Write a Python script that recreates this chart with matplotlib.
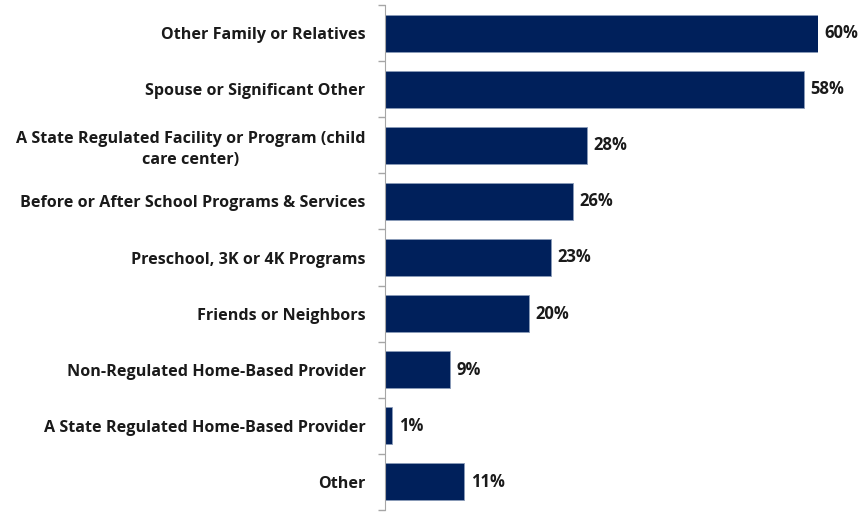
import numpy as np
import matplotlib.pyplot as plt

plt.rcParams['font.family'] = ['Open Sans', 'DejaVu Sans']

categories = ['Other Family or Relatives',
              'Spouse or Significant Other',
              'A State Regulated Facility or Program (child\ncare center)',
              'Before or After School Programs & Services',
              'Preschool, 3K or 4K Programs',
              'Friends or Neighbors',
              'Non-Regulated Home-Based Provider',
              'A State Regulated Home-Based Provider',
              'Other']
values = [60, 58, 28, 26, 23, 20, 9, 1, 11]

fig = plt.figure(figsize=(8.63, 5.12), dpi=100)
ax = fig.add_axes([385 / 863, 2 / 512, 433 / 863, 505 / 512])

y = np.arange(len(categories))
ax.barh(y, values, height=0.66, color='#00205b', edgecolor='#8a9bb8', linewidth=0.6)

# value labels to the right of each bar
for yi, v in zip(y, values):
    ax.text(v + 0.9, yi, f'{v}%', va='center', ha='left', fontsize=12,
            fontweight='bold', color='#1a1a1a', clip_on=False)

ax.set_xlim(0, 60)
ax.set_ylim(len(categories) - 0.5, -0.5)
ax.set_yticks(y)
ax.set_yticklabels(categories, fontsize=11.6, fontweight='bold', color='#1a1a1a',
                   multialignment='center')
for lbl in ax.get_yticklabels():
    lbl.set_linespacing(1.4)
ax.tick_params(axis='y', which='major', length=0, pad=14)
ax.set_yticks(np.arange(-0.5, len(categories), 1), minor=True)
ax.tick_params(axis='y', which='minor', length=5, color='#a6a6a6', width=1)

ax.set_xticks([])
for s in ['top', 'right', 'bottom']:
    ax.spines[s].set_visible(False)
ax.spines['left'].set_color('#a6a6a6')

fig.savefig('out.png', dpi=100)
